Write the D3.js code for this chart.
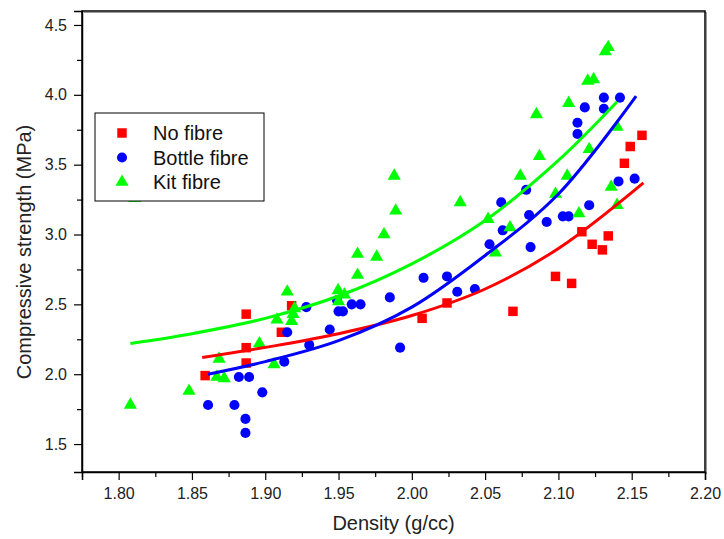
<!DOCTYPE html>
<html>
<head>
<meta charset="utf-8">
<script src="https://cdn.jsdelivr.net/npm/d3@7"></script>
<style>
  body { margin: 0; background: #fff; }
  svg { display: block; font-family: "Liberation Sans", Arial, sans-serif; }
</style>
</head>
<body>
<div id="chart"></div>
<script>
// Data
var noFibreX = [1.859, 1.887, 1.887, 1.887, 1.911, 1.918, 2.007, 2.024, 2.069, 2.098, 2.109, 2.116, 2.123, 2.130, 2.134, 2.145, 2.149, 2.157];
var noFibreY = [1.99, 2.43, 2.19, 2.08, 2.30, 2.49, 2.40, 2.51, 2.45, 2.70, 2.65, 3.02, 2.93, 2.89, 2.99, 3.51, 3.63, 3.71];

var bottleX = [1.861, 1.879, 1.8865, 1.8865, 1.882, 1.889, 1.898, 1.913, 1.915, 1.928, 1.930, 1.944, 1.949, 1.950, 1.953, 1.959, 1.965,
    1.985, 1.992, 2.008, 2.024, 2.031, 2.043, 2.053, 2.062, 2.061, 2.078, 2.080, 2.081, 2.092, 2.103, 2.107, 2.121, 2.141, 2.152,
    2.113, 2.113, 2.118, 2.131, 2.131, 2.142];
var bottleY = [1.78, 1.78, 1.68, 1.58, 1.98, 1.98, 1.87, 2.09, 2.30, 2.48, 2.21, 2.32, 2.53, 2.45, 2.45, 2.50, 2.50,
    2.55, 2.19, 2.69, 2.70, 2.59, 2.61, 2.93, 3.03, 3.23, 3.32, 3.14, 2.91, 3.09, 3.13, 3.13, 3.21, 3.38, 3.40,
    3.72, 3.80, 3.91, 3.90, 3.98, 3.98];

var kitX = [1.811, 1.808, 1.848, 1.8685, 1.867, 1.872, 1.896, 1.906, 1.908, 1.915, 1.918, 1.919, 1.920, 1.9497, 1.954, 1.950,
    1.963, 1.963, 1.976, 1.981, 1.989, 1.988, 2.033, 2.052, 2.057, 2.067, 2.074, 2.085, 2.087, 2.098, 2.106, 2.107,
    2.114, 2.121, 2.120, 2.124, 2.132, 2.134, 2.136, 2.140, 2.140];
var kitY = [3.26, 1.78, 1.88, 2.11, 1.98, 1.97, 2.22, 2.07, 2.39, 2.59, 2.38, 2.43, 2.47, 2.60, 2.57, 2.52,
    2.86, 2.71, 2.84, 3.00, 3.17, 3.42, 3.23, 3.11, 2.87, 3.05, 3.42, 3.86, 3.56, 3.29, 3.42, 3.94,
    3.15, 3.61, 4.10, 4.11, 4.31, 4.34, 3.34, 3.21, 3.77];

// fitted curves
var noFibreFitX = [1.857, 1.91, 1.95, 2.00, 2.05, 2.10, 2.158];
var noFibreFitY = [2.12, 2.21, 2.29, 2.42, 2.61, 2.90, 3.37];
var bottleFitX = [1.861, 1.90, 1.95, 2.00, 2.05, 2.10, 2.153];
var bottleFitY = [2.00, 2.09, 2.24, 2.48, 2.85, 3.29, 3.99];
var kitFitX = [1.808, 1.85, 1.90, 1.95, 2.00, 2.05, 2.10, 2.14];
var kitFitY = [2.22, 2.29, 2.40, 2.56, 2.79, 3.10, 3.53, 3.95];

var xTicks = [1.80, 1.85, 1.90, 1.95, 2.00, 2.05, 2.10, 2.15, 2.20];
var yTicks = [1.5, 2.0, 2.5, 3.0, 3.5, 4.0, 4.5];
var seriesNames = ["No fibre", "Bottle fibre", "Kit fibre"];

var W = 724, H = 539;
var margin = {left: 82, right: 19, top: 11, bottom: 67};

var svg = d3.select("#chart").append("svg")
    .attr("width", W)
    .attr("height", H);

var x = d3.scaleLinear().domain([1.775, 2.20]).range([margin.left, W - margin.right]);
var y = d3.scaleLinear().domain([1.3, 4.6]).range([H - margin.bottom, margin.top]);

var zip = function(a, b) { return a.map(function(v, i) { return [v, b[i]]; }); };

var series = [
    {name: seriesNames[0], color: "#ff0000", shape: d3.symbolSquare, size: 90, pts: zip(noFibreX, noFibreY), fit: zip(noFibreFitX, noFibreFitY)},
    {name: seriesNames[1], color: "#0000ff", shape: d3.symbolCircle, size: 80, pts: zip(bottleX, bottleY), fit: zip(bottleFitX, bottleFitY)},
    {name: seriesNames[2], color: "#00ff00", shape: d3.symbolTriangle, size: 75, pts: zip(kitX, kitY), fit: zip(kitFitX, kitFitY)}
];

// faint shadow + plot frame (top/right)
svg.append("path")
    .attr("d", "M" + (x.range()[0] + 2) + "," + (y.range()[1] + 1.5) + "H" + (x.range()[1] + 1.5) + "V" + (y.range()[0] + 2))
    .attr("fill", "none").attr("stroke", "#999").attr("stroke-width", 1);
svg.append("rect")
    .attr("x", x.range()[0]).attr("y", y.range()[1])
    .attr("width", x.range()[1] - x.range()[0])
    .attr("height", y.range()[0] - y.range()[1])
    .attr("fill", "none").attr("stroke", "#000").attr("stroke-width", 1.5);

// axes
var xMinor = d3.range(1.775, 2.2001, 0.025).filter(function(d) { return Math.abs(Math.round(d * 20) - d * 20) > 0.01; });
var yMinor = [1.75, 2.25, 2.75, 3.25, 3.75, 4.25];

svg.append("g").attr("transform", "translate(0," + y.range()[0] + ")")
    .call(d3.axisBottom(x).tickValues(xTicks).tickSize(8).tickPadding(8).tickFormat(d3.format(".2f")));
svg.append("g").attr("transform", "translate(0," + y.range()[0] + ")")
    .call(d3.axisBottom(x).tickValues(xMinor).tickSize(5).tickFormat(""))
    .select(".domain").remove();

svg.append("g").attr("transform", "translate(" + x.range()[0] + ",0)")
    .call(d3.axisLeft(y).tickValues(yTicks).tickSize(8).tickPadding(7).tickFormat(d3.format(".1f")));
svg.append("g").attr("transform", "translate(" + x.range()[0] + ",0)")
    .call(d3.axisLeft(y).tickValues(yMinor).tickSize(5).tickFormat(""))
    .select(".domain").remove();

svg.selectAll(".domain").attr("stroke-width", 1.5);
svg.selectAll(".tick line").attr("stroke-width", 1.2);
svg.selectAll(".tick text").attr("font-size", 16).attr("fill", "#222")
    .attr("font-family", "'Liberation Sans', Arial, sans-serif");

// axis titles
svg.append("text")
    .attr("x", (x.range()[0] + x.range()[1]) / 2).attr("y", 530)
    .attr("text-anchor", "middle").attr("font-size", 20).attr("fill", "#222")
    .text("Density (g/cc)");
svg.append("text")
    .attr("transform", "translate(31,252) rotate(-90)")
    .attr("text-anchor", "middle").attr("font-size", 20).attr("fill", "#222")
    .text("Compressive strength (MPa)");

// points
var plot = svg.append("g");
series.forEach(function(s) {
    plot.selectAll(null)
        .data(s.pts)
        .enter().append("path")
        .attr("d", d3.symbol().type(s.shape).size(s.size))
        .attr("transform", function(d) { return "translate(" + x(d[0]) + "," + y(d[1]) + ")"; })
        .attr("fill", s.color);
});

// fitted curves
var line = d3.line()
    .x(function(d) { return x(d[0]); })
    .y(function(d) { return y(d[1]); })
    .curve(d3.curveCatmullRom);
series.forEach(function(s) {
    plot.append("path")
        .attr("d", line(s.fit))
        .attr("fill", "none")
        .attr("stroke", s.color)
        .attr("stroke-width", 3);
});

// legend
var legend = svg.append("g");
legend.append("rect")
    .attr("x", 95).attr("y", 113).attr("width", 169).attr("height", 88)
    .attr("fill", "#fff").attr("stroke", "#000").attr("stroke-width", 1);
series.forEach(function(s, i) {
    var ly = 133 + i * 24.5;
    legend.append("path")
        .attr("d", d3.symbol().type(s.shape).size(s.size))
        .attr("transform", "translate(122," + ly + ")")
        .attr("fill", s.color);
    legend.append("text")
        .attr("x", 153).attr("y", ly + 7)
        .attr("font-size", 20).attr("fill", "#111")
        .text(s.name);
});
</script>
</body>
</html>
